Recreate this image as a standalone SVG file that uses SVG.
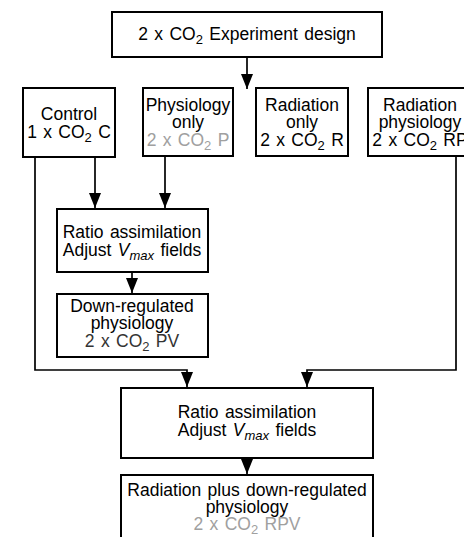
<svg xmlns="http://www.w3.org/2000/svg" width="464" height="537" viewBox="0 0 464 537">
<style>
.box{fill:#fff;stroke:#000;stroke-width:2}
.t{font-family:"Liberation Sans",Arial,Helvetica,sans-serif;font-size:17.5px;fill:#000;text-anchor:middle;word-spacing:1.5px}
.g{fill:#a0a0a0}
.d{fill:#333}
.sub{font-size:13px}
.con{fill:none;stroke:#000;stroke-width:1.7}
</style>
<defs>
<marker id="ah" viewBox="0 0 10 10" refX="10" refY="5" markerWidth="15" markerHeight="12" markerUnits="userSpaceOnUse" orient="auto" preserveAspectRatio="none">
<path d="M0,0 L10,5 L0,10 z" fill="#000"/>
</marker>
</defs>
<rect width="464" height="537" fill="#fff"/>
<g id="connectors">
<path class="con" d="M247,57 V89" marker-end="url(#ah)"/>
<path class="con" d="M95,157 V208" marker-end="url(#ah)"/>
<path class="con" d="M165,156 V208" marker-end="url(#ah)"/>
<path class="con" d="M132,272 V293" marker-end="url(#ah)"/>
<path class="con" d="M35,157 V370 H187 V387" marker-end="url(#ah)"/>
<path class="con" d="M456,156 V370 H307 V387" marker-end="url(#ah)"/>
<path class="con" d="M247,458 V474" marker-end="url(#ah)"/>
</g>
<g id="design">
<rect class="box" x="112" y="12" width="270" height="45"/>
<text class="t" x="247" y="40">2 x CO<tspan class="sub" dy="4">2</tspan><tspan dy="-4"> Experiment design</tspan></text>
</g>
<g id="control">
<rect class="box" x="23" y="88" width="92" height="69"/>
<text class="t" x="69" y="120">Control</text>
<text class="t" x="69" y="138">1 x CO<tspan class="sub" dy="4">2</tspan><tspan dy="-4"> C</tspan></text>
</g>
<g id="physiology">
<rect class="box" x="143" y="88" width="90" height="68"/>
<text class="t" x="188" y="111">Physiology</text>
<text class="t" x="188" y="128">only</text>
<text class="t g" x="188" y="146">2 x CO<tspan class="sub" dy="4">2</tspan><tspan dy="-4"> P</tspan></text>
</g>
<g id="radiation">
<rect class="box" x="256" y="88" width="92" height="68"/>
<text class="t" x="302" y="111">Radiation</text>
<text class="t" x="302" y="128">only</text>
<text class="t" x="302" y="146">2 x CO<tspan class="sub" dy="4">2</tspan><tspan dy="-4"> R</tspan></text>
</g>
<g id="radphys">
<rect class="box" x="368" y="88" width="104" height="68"/>
<text class="t" x="420" y="111">Radiation</text>
<text class="t" x="420" y="128">physiology</text>
<text class="t" x="420" y="146">2 x CO<tspan class="sub" dy="4">2</tspan><tspan dy="-4"> RP</tspan></text>
</g>
<g id="ratio1">
<rect class="box" x="57" y="209" width="151" height="63"/>
<text class="t" x="132" y="238">Ratio assimilation</text>
<text class="t" x="132" y="256">Adjust <tspan font-style="italic">V</tspan><tspan class="sub" font-style="italic" dy="4">max</tspan><tspan dy="-4"> fields</tspan></text>
</g>
<g id="downreg">
<rect class="box" x="57" y="294" width="151" height="63"/>
<text class="t" x="132" y="312">Down-regulated</text>
<text class="t" x="132" y="329">physiology</text>
<text class="t d" x="132" y="347">2 x CO<tspan class="sub" dy="4">2</tspan><tspan dy="-4"> PV</tspan></text>
</g>
<g id="ratio2">
<rect class="box" x="121" y="388" width="252" height="70"/>
<text class="t" x="247" y="418">Ratio assimilation</text>
<text class="t" x="247" y="436">Adjust <tspan font-style="italic">V</tspan><tspan class="sub" font-style="italic" dy="4">max</tspan><tspan dy="-4"> fields</tspan></text>
</g>
<g id="final">
<rect class="box" x="121" y="475" width="252" height="80"/>
<text class="t" x="247" y="496">Radiation plus down-regulated</text>
<text class="t" x="247" y="513">physiology</text>
<text class="t g" x="247" y="530">2 x CO<tspan class="sub" dy="4">2</tspan><tspan dy="-4"> RPV</tspan></text>
</g>
</svg>
